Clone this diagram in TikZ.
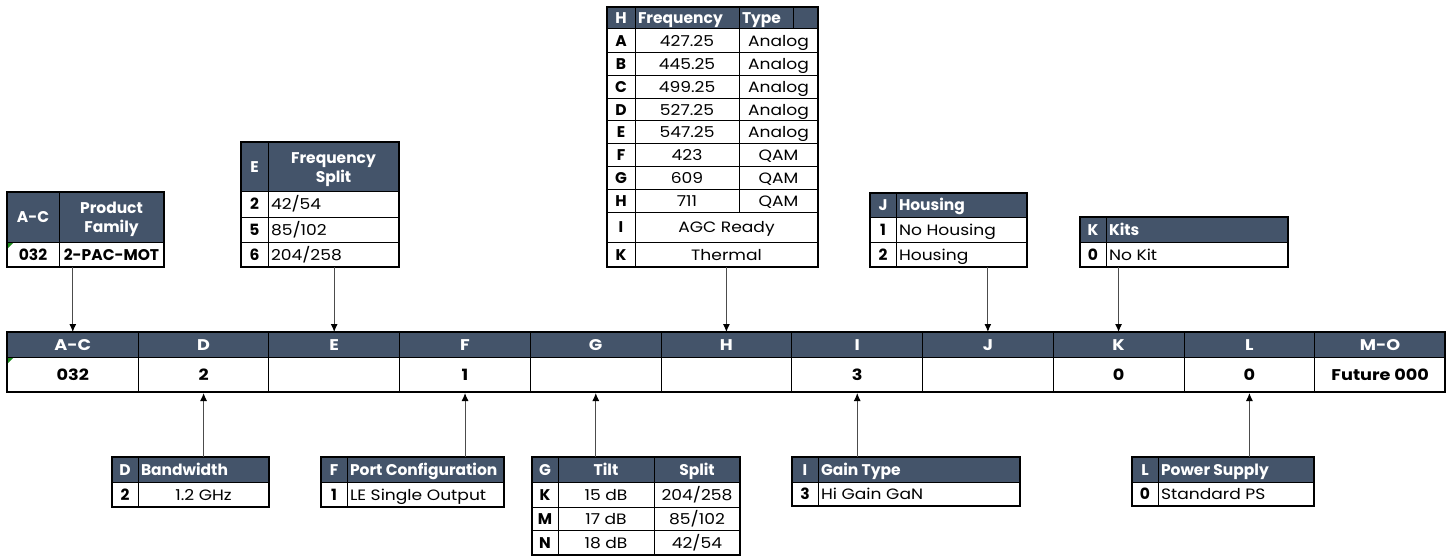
\documentclass[tikz,border=0pt]{standalone}
\usepackage{fontspec}
\setmainfont{Poppins}
\newfontfamily\wideff{Poppins}[FakeStretch=1.14]
\usetikzlibrary{arrows.meta}
\definecolor{hdr}{HTML}{44546A}
\definecolor{xlgreen}{HTML}{1E8C1E}
\tikzset{
  hfill/.style={fill=hdr},
  basetxt/.style={inner sep=0pt, outer sep=0pt, text height=11pt, text depth=0pt},
  ht/.style={basetxt, text=white, font=\fontsize{15.5}{17}\selectfont\bfseries},
  kt/.style={basetxt, text=black, font=\fontsize{15.5}{17}\selectfont\bfseries},
  vt/.style={basetxt, text=black, font=\wideff\fontsize{15}{17}\selectfont},
  gridl/.style={draw=black, line width=1pt},
  outerbox/.style={draw=black, line width=2pt, inner sep=0pt, outer sep=0pt},
  hcell/.style={fill=hdr, draw=black, line width=0.8pt, minimum width=130.727pt, minimum height=25pt,
     anchor=north west, inner sep=0pt, text height=11pt, text depth=0pt, text=white,
     font=\wideff\fontsize{15.5}{17}\selectfont\bfseries},
  vcell/.style={fill=white, draw=black, line width=1pt, minimum width=130.727pt, minimum height=35pt,
     anchor=north west, inner sep=0pt, text height=11pt, text depth=0pt, text=black,
     font=\wideff\fontsize{15.5}{17}\selectfont\bfseries},
  arr/.style={draw=black!70, line width=1pt, -{Latex[length=8pt,width=7pt,color=black]}},
}
\begin{document}
\begin{tikzpicture}[x=1pt,y=-1pt]
\useasboundingbox[fill=white] (0,0) rectangle (1453,556);

% ---------------- main bar ----------------
\foreach \i/\h/\v in {0/A-C/032,1/D/2,2/E/,3/F/1,4/G/,5/H/,6/I/3,7/J/,8/K/0,9/L/0,10/M-O/Future 000}{
  \node[hcell] (h\i) at ({7+\i*130.727},332) {\h};
  \node[vcell] (v\i) at ({7+\i*130.727},357) {\v};
}
\node[outerbox, minimum width=1438pt, minimum height=60pt, anchor=north west] (bar) at (7,332) {};
\fill[xlgreen] (8,358) -- (13,358) -- (8,363) -- cycle;

% ---------------- A-C table ----------------
\fill[hfill] (7,192) rectangle (164,242);
\draw[gridl] (7,242) -- (164,242) (59,192) -- (59,267);
\node[ht] (acH1) at (33,217) {A-C};
\node[ht] (acH2) at (111.5,208) {Product};
\node[ht] (acH3) at (111.5,227) {Family};
\node[kt] (acK) at (33,254.5) {032};
\node[kt] (acV) at (111.5,254.5) {2-PAC-MOT};
\node[outerbox, minimum width=157pt, minimum height=75pt, anchor=north west] (tAC) at (7,192) {};
\fill[xlgreen] (8,243) -- (13,243) -- (8,248) -- cycle;

% ---------------- E table ----------------
\fill[hfill] (241,142) rectangle (399,192);
\draw[gridl] (241,192) -- (399,192) (241,217) -- (399,217) (241,242) -- (399,242) (268,142) -- (268,267);
\node[ht] (eH1) at (254.5,167) {E};
\node[ht] (eH2) at (333.5,158) {Frequency};
\node[ht] (eH3) at (333.5,177) {Split};
\node[kt] (eK1) at (254.5,204.5) {2};
\node[vt,anchor=west] (eV1) at (271,204.5) {42/54};
\node[kt] (eK2) at (254.5,229.5) {5};
\node[vt,anchor=west] (eV2) at (271,229.5) {85/102};
\node[kt] (eK3) at (254.5,254.5) {6};
\node[vt,anchor=west] (eV3) at (271,254.5) {204/258};
\node[outerbox, minimum width=158pt, minimum height=125pt, anchor=north west] (tE) at (241,142) {};

% ---------------- H table ----------------
\fill[hfill] (607,7) rectangle (818,29);
\foreach \yy in {29,53,76,99,121,144,167,190,213,242}{\draw[gridl] (607,\yy) -- (818,\yy);}
\draw[gridl] (635,7) -- (635,267) (739,7) -- (739,213) (793,7) -- (793,29);
\node[ht] (hH1) at (621,18) {H};
\node[ht,anchor=west] (hH2) at (638,18) {Frequency};
\node[ht,anchor=west] (hH3) at (742,18) {Type};
\foreach \k/\yy/\f/\t in {A/41/427.25/Analog,B/64.5/445.25/Analog,C/87.5/499.25/Analog,D/110/527.25/Analog,E/132.5/547.25/Analog,F/155.5/423/QAM,G/178.5/609/QAM,H/201.5/711/QAM}{
  \node[kt] (hK\k) at (621,\yy) {\k};
  \node[vt] (hF\k) at (687,\yy) {\f};
  \node[vt] (hT\k) at (778.5,\yy) {\t};
}
\node[kt] (hKI) at (621,227.5) {I};
\node[vt] (hVI) at (726.5,227.5) {AGC Ready};
\node[kt] (hKK) at (621,254.5) {K};
\node[vt] (hVK) at (726.5,254.5) {Thermal};
\node[outerbox, minimum width=211pt, minimum height=260pt, anchor=north west] (tH) at (607,7) {};

% ---------------- J table ----------------
\fill[hfill] (870,193) rectangle (1027,217);
\draw[gridl] (870,217) -- (1027,217) (870,242) -- (1027,242) (896,193) -- (896,267);
\node[ht] (jH1) at (883,205) {J};
\node[ht,anchor=west] (jH2) at (899,205) {Housing};
\node[kt] (jK1) at (883,229.5) {1};
\node[vt,anchor=west] (jV1) at (899,229.5) {No Housing};
\node[kt] (jK2) at (883,254.5) {2};
\node[vt,anchor=west] (jV2) at (899,254.5) {Housing};
\node[outerbox, minimum width=157pt, minimum height=74pt, anchor=north west] (tJ) at (870,193) {};

% ---------------- K table ----------------
\fill[hfill] (1080,217) rectangle (1288,242);
\draw[gridl] (1080,242) -- (1288,242) (1106,217) -- (1106,267);
\node[ht] (kH1) at (1093,229.5) {K};
\node[ht,anchor=west] (kH2) at (1109,229.5) {Kits};
\node[kt] (kK1) at (1093,254.5) {0};
\node[vt,anchor=west] (kV1) at (1109,254.5) {No Kit};
\node[outerbox, minimum width=208pt, minimum height=50pt, anchor=north west] (tK) at (1080,217) {};

% ---------------- D table ----------------
\fill[hfill] (112,457) rectangle (269,482);
\draw[gridl] (112,482) -- (269,482) (138,457) -- (138,507);
\node[ht] (dH1) at (125,469.5) {D};
\node[ht,anchor=west] (dH2) at (141,469.5) {Bandwidth};
\node[kt] (dK1) at (125,494.5) {2};
\node[vt] (dV1) at (203.5,494.5) {1.2 GHz};
\node[outerbox, minimum width=157pt, minimum height=50pt, anchor=north west] (tD) at (112,457) {};

% ---------------- F table ----------------
\fill[hfill] (321,457) rectangle (504,482);
\draw[gridl] (321,482) -- (504,482) (347,457) -- (347,507);
\node[ht] (fH1) at (334,469.5) {F};
\node[ht,anchor=west] (fH2) at (350,469.5) {Port Configuration};
\node[kt] (fK1) at (334,494.5) {1};
\node[vt,anchor=west] (fV1) at (350,494.5) {LE Single Output};
\node[outerbox, minimum width=183pt, minimum height=50pt, anchor=north west] (tF) at (321,457) {};

% ---------------- G table ----------------
\fill[hfill] (532,457) rectangle (740,482);
\draw[gridl] (532,482) -- (740,482) (532,507) -- (740,507) (532,530) -- (740,530) (558,457) -- (558,555) (654,457) -- (654,555);
\node[ht] (gH1) at (545,469.5) {G};
\node[ht] (gH2) at (606,469.5) {Tilt};
\node[ht] (gH3) at (697,469.5) {Split};
\foreach \k/\yy/\a/\b in {K/494.5/15 dB/204\slash 258,M/518.5/17 dB/85\slash 102,N/542.5/18 dB/42\slash 54}{
  \node[kt] (gK\k) at (545,\yy) {\k};
  \node[vt] (gA\k) at (606,\yy) {\a};
  \node[vt] (gB\k) at (697,\yy) {\b};
}
\node[outerbox, minimum width=208pt, minimum height=98pt, anchor=north west] (tG) at (532,457) {};

% ---------------- I table ----------------
\fill[hfill] (792,457) rectangle (1020,482);
\draw[gridl] (792,482) -- (1020,482) (818,457) -- (818,506);
\node[ht] (iH1) at (805,469.5) {I};
\node[ht,anchor=west] (iH2) at (821,469.5) {Gain Type};
\node[kt] (iK1) at (805,494) {3};
\node[vt,anchor=west] (iV1) at (821,494) {Hi Gain GaN};
\node[outerbox, minimum width=228pt, minimum height=49pt, anchor=north west] (tI) at (792,457) {};

% ---------------- L table ----------------
\fill[hfill] (1132,457) rectangle (1314,482);
\draw[gridl] (1132,482) -- (1314,482) (1158,457) -- (1158,506);
\node[ht] (lH1) at (1145,469.5) {L};
\node[ht,anchor=west] (lH2) at (1161,469.5) {Power Supply};
\node[kt] (lK1) at (1145,494) {0};
\node[vt,anchor=west] (lV1) at (1161,494) {Standard PS};
\node[outerbox, minimum width=182pt, minimum height=49pt, anchor=north west] (tL) at (1132,457) {};

% ---------------- connectors ----------------
\draw[arr] (h0.north |- tAC.south) -- (h0.north);
\draw[arr] (h2.north |- tE.south) -- (h2.north);
\draw[arr] (h5.north |- tH.south) -- (h5.north);
\draw[arr] (h7.north |- tJ.south) -- (h7.north);
\draw[arr] (h8.north |- tK.south) -- (h8.north);
\draw[arr] (v1.south |- tD.north) -- (v1.south);
\draw[arr] (v3.south |- tF.north) -- (v3.south);
\draw[arr] (v4.south |- tG.north) -- (v4.south);
\draw[arr] (v6.south |- tI.north) -- (v6.south);
\draw[arr] (v9.south |- tL.north) -- (v9.south);
\end{tikzpicture}
\end{document}
